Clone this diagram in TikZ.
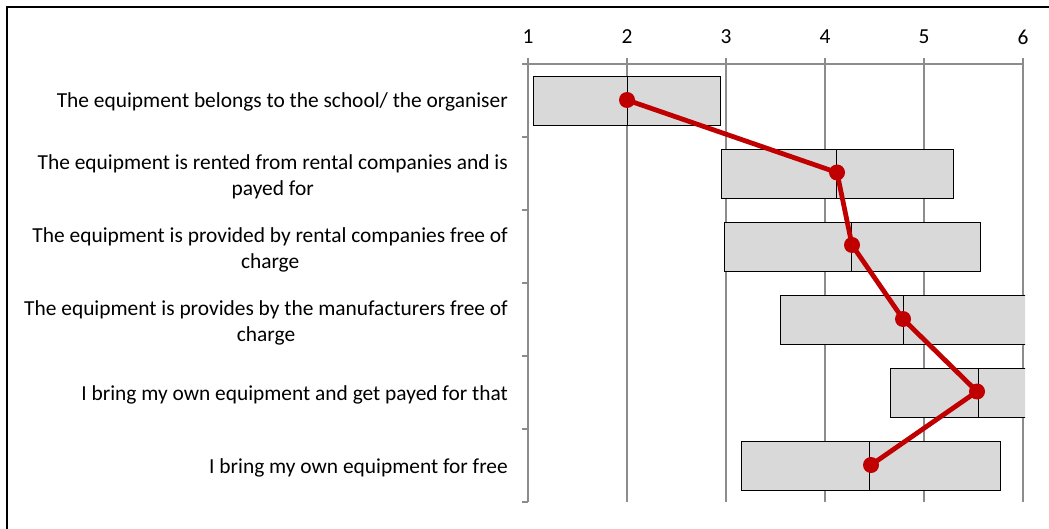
\documentclass[tikz,border=0pt]{standalone}
\usepackage{fontspec}
\setmainfont{Carlito}
\definecolor{gridgray}{RGB}{140,140,140}
\definecolor{boxfill}{RGB}{217,217,217}
\definecolor{dotred}{RGB}{192,0,0}
\tikzset{
  gridline/.style={draw=gridgray, line width=1.5pt},
  qbox/.style={draw=black, fill=boxfill, line width=1pt},
  medline/.style={draw=black, line width=1pt},
  dot/.style={circle, fill=dotred, inner sep=0pt, minimum size=16pt},
  redline/.style={draw=dotred, line width=4.8pt},
  catlabel/.style={anchor=east, align=center, inner sep=0pt, font=\fontsize{21.4}{26}\selectfont},
  numlabel/.style={anchor=center, inner sep=0pt, font=\fontsize{21.4}{26}\selectfont},
}
\begin{document}
\begin{tikzpicture}[x=1pt,y=-1pt]
\useasboundingbox (0,0) rectangle (1049,529);
\fill[white] (0,0) rectangle (1049,529);
\draw[black, line width=2pt] (7,7) rectangle (1070,560);
% grid lines and axes
\foreach \v in {1,...,6} {
  \draw[gridline] ({528+99*(\v-1)},58) -- ({528+99*(\v-1)},502);
  \node[numlabel] (n\v) at ({528+99*(\v-1)},37) {\v};
}
\draw[gridline] (522,64) -- (1023,64);
\foreach \k in {0,...,6} {
  \draw[gridline] (522,{64+73*\k}) -- (528,{64+73*\k});
}
% boxes (clipped at plot area)
\begin{scope}
\clip (528,40) rectangle (1025,510);
\foreach \lo/\hi/\med/\yc in {1.06/2.94/2.0/101, 2.95/5.30/4.12/174, 2.98/5.57/4.27/247, 3.55/6.4/4.79/320, 4.66/6.4/5.55/393, 3.16/5.77/4.45/466} {
  \draw[qbox] ({528+99*(\lo-1)},{\yc-24.3}) rectangle ({528+99*(\hi-1)},{\yc+24.3});
  \draw[medline] ({528+99*(\med-1)},{\yc-24.3}) -- ({528+99*(\med-1)},{\yc+24.3});
}
\end{scope}
% means
\node[dot] (d1) at (627,100) {};
\node[dot] (d2) at (837,172.5) {};
\node[dot] (d3) at (852,245) {};
\node[dot] (d4) at (903,319) {};
\node[dot] (d5) at (977,391.5) {};
\node[dot] (d6) at (871,465) {};
\draw[redline] (d1.center) -- (d2.center) -- (d3.center) -- (d4.center) -- (d5.center) -- (d6.center);
% category labels
\node[catlabel] (c1) at (508,102) {The equipment belongs to the school/ the organiser};
\node[catlabel] (c2) at (508,176.5) {The equipment is rented from rental companies and is\\payed for};
\node[catlabel] (c3) at (508,249.5) {The equipment is provided by rental companies free of\\charge};
\node[catlabel] (c4) at (508,322.5) {The equipment is provides by the manufacturers free of\\charge};
\node[catlabel] (c5) at (508,394.5) {I bring my own equipment and get payed for that};
\node[catlabel] (c6) at (508,467.5) {I bring my own equipment for free};
\end{tikzpicture}
\end{document}
